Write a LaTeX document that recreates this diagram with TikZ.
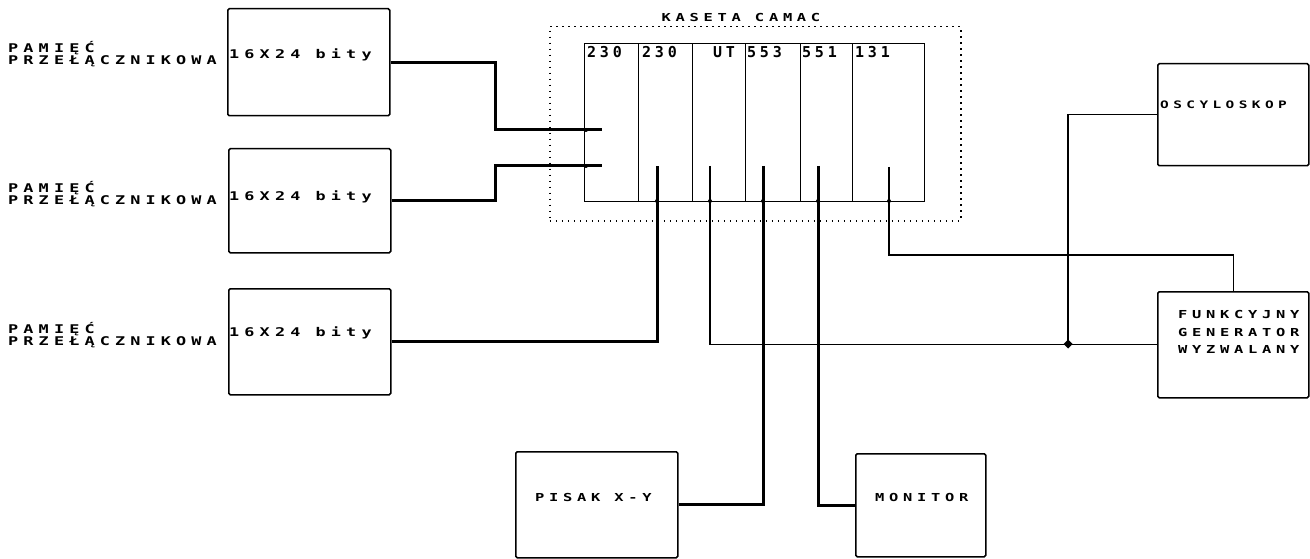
\documentclass[tikz,border=0pt]{standalone}
\usepackage{fontspec}
\newfontfamily\plotf[LetterSpace=43,FakeStretch=1.4]{DejaVu Sans Mono}
\newfontfamily\plotn[LetterSpace=25]{DejaVu Sans Mono}
\begin{document}
\begin{tikzpicture}[x=1pt,y=-1pt,
  blk/.style={draw, line width=1.5pt, rounded corners=1.5pt, anchor=north west, inner sep=0},
  txt/.style={font=\plotf\bfseries\fontsize{11}{10.5}\selectfont, inner sep=0, anchor=west, align=left},
  big/.style={txt, font=\plotf\bfseries\fontsize{12}{10.5}\selectfont},
  mod/.style={draw, line width=1.4pt, anchor=north west, inner sep=0},
  num/.style={font=\plotn\bfseries\fontsize{15}{15}\selectfont, inner sep=0, anchor=west},
  thk/.style={line width=3pt},
  thn/.style={line width=1.4pt},
  crate/.style={draw, line width=1.5pt, dash pattern=on 1.6pt off 4.4pt, anchor=north west, inner sep=0},
  jdot/.style={fill, radius=2pt}
]
\useasboundingbox (0,0) rectangle (1310,559);

% dotted crate outline and title
\node[crate, minimum width=411pt, minimum height=194pt] (kas) at (549,26) {};
\node[txt, anchor=base, fill=white, inner xsep=2pt] (kast) at (741,22) {KASETA CAMAC};

% memory boxes
\node[blk, minimum width=162pt, minimum height=107pt] (m1) at (227,8) {};
\node[blk, minimum width=162pt, minimum height=104pt] (m2) at (228,148) {};
\node[blk, minimum width=162pt, minimum height=106pt] (m3) at (228,288) {};
\node[big] (m1t) at (229,55) {16X24 bity};
\node[big] (m2t) at (229,197) {16X24 bity};
\node[big] (m3t) at (229,333) {16X24 bity};
\node[big] (l1) at (8,54) {PAMIĘĆ\\PRZEŁĄCZNIKOWA};
\node[big] (l2) at (8,194) {PAMIĘĆ\\PRZEŁĄCZNIKOWA};
\node[big] (l3) at (8,335) {PAMIĘĆ\\PRZEŁĄCZNIKOWA};

% CAMAC modules
\node[mod, minimum width=54pt, minimum height=158pt] (c1) at (584,43) {};
\node[mod, minimum width=54pt, minimum height=158pt] (c2) at (638,43) {};
\node[mod, minimum width=53pt, minimum height=158pt] (c3) at (692,43) {};
\node[mod, minimum width=55pt, minimum height=158pt] (c4) at (745,43) {};
\node[mod, minimum width=52pt, minimum height=158pt] (c5) at (800,43) {};
\node[mod, minimum width=72pt, minimum height=158pt] (c6) at (852,43) {};
\node[num] (c1t) at (587,52) {230};
\node[num] (c2t) at (642,52) {230};
\node[num] (c3t) at (713,52) {UT};
\node[num] (c4t) at (747,52) {553};
\node[num] (c5t) at (802,52) {551};
\node[num] (c6t) at (855,52) {131};

% right side and bottom devices
\node[blk, minimum width=151pt, minimum height=102pt] (osc) at (1157,63) {};
\node[txt, font=\plotf\bfseries\fontsize{10.3}{10.5}\selectfont] (osct) at (1160,105) {OSCYLOSKOP};
\node[blk, minimum width=151pt, minimum height=106pt] (gen) at (1157,291) {};
\node[txt, font=\plotf\bfseries\fontsize{11}{17.5}\selectfont] (gent) at (1178,332) {FUNKCYJNY\\GENERATOR\\WYZWALANY};
\node[blk, minimum width=162pt, minimum height=106pt] (pis) at (515,451) {};
\node[txt] (pist) at (535,497) {PISAK X-Y};
\node[blk, minimum width=130pt, minimum height=103pt] (mon) at (855,453) {};
\node[txt] (mont) at (875,497) {MONITOR};

% port coordinates
\coordinate (p1) at (602,130);
\coordinate (p2) at (602,166);
\coordinate (q2) at (657,166);
\coordinate (q3) at (710,166);
\coordinate (q4) at (763,166);
\coordinate (q5) at (818,166);
\coordinate (q6) at (889,167);
\coordinate (j) at (1068,344);

% connectors
\draw[thk] (m1.east) -| (495,130) -- (p1);
\draw[thk] (m2.east) -| (495,166) -- (p2);
\draw[thk] (m3.east) -| (q2);
\draw[thn] (q3) |- (gen.west);
\draw[thn] (osc.west) -| (j);
\draw[thk] (q4) |- (pis.east);
\draw[thk] (q5) |- (mon.west);
\draw[thn] (q6) |- ([yshift=36pt]gen.north) -- (gen.north);

% junction marks
\fill (j) +(0,-4.5) -- +(4.5,0) -- +(0,4.5) -- +(-4.5,0) -- cycle;
\fill[jdot] (586,130) circle;
\fill[jdot] (586,166) circle;
\fill[jdot] (657,201) circle;
\fill[jdot] (710,201) circle;
\fill[jdot] (763,201) circle;
\fill[jdot] (818,201) circle;
\fill[jdot] (889,201) circle;
\end{tikzpicture}
\end{document}
